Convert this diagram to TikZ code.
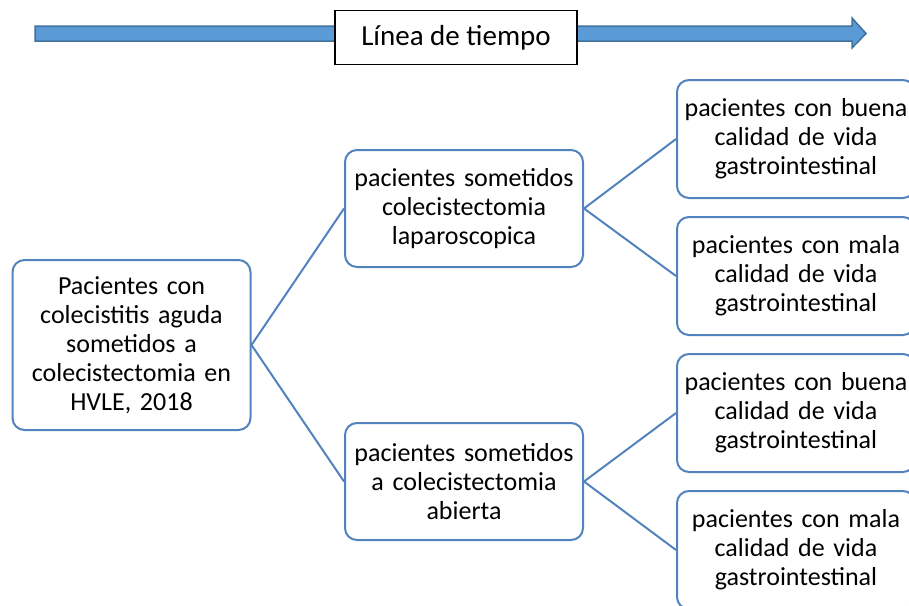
\documentclass[tikz,border=0pt]{standalone}
\usepackage{fontspec}
\setmainfont{Carlito}
\usepackage{tikz}
\usetikzlibrary{calc}
\definecolor{arrowfill}{RGB}{91,155,213}
\definecolor{arrowline}{RGB}{65,113,156}
\definecolor{boxline}{RGB}{83,131,190}

\begin{document}
\begin{tikzpicture}[x=1pt, y=-1pt,
	box/.style={draw=boxline, line width=2pt, rounded corners=12pt, fill=white,
		align=center, inner sep=0pt, text width=236pt, minimum width=238pt,
		font=\fontsize{26}{29}\selectfont},
	link/.style={draw=boxline, line width=2pt}]
	\clip (0,0) rectangle (909,605);
	\useasboundingbox (0,0) rectangle (909,605);
	% time line
	\coordinate (L) at (35,26);
	\coordinate (R) at (852,41);
	\filldraw [fill=arrowfill, draw=arrowline, line width=1.5pt]
		(L) -- (852,26) -- (852,18) -- (866,33.5) -- (852,48) -- (R) -- (35,41) -- cycle;
	\node [draw, line width=1.5pt, fill=white, minimum width=242pt, minimum height=54pt,
		font=\fontsize{29}{32}\selectfont] (title) at (456,37.5) {Línea de tiempo};
	% boxes
	\node [box, minimum height=170pt] (root) at (131.5,345)
		{Pacientes con\\colecistitis aguda\\sometidos a\\colecistectomia en\\HVLE, 2018};
	\node [box, minimum height=117pt] (lap) at (464,208.5)
		{pacientes sometidos\\colecistectomia\\laparoscopica};
	\node [box, minimum height=117pt] (abi) at (464,481.5)
		{pacientes sometidos\\a colecistectomia\\abierta};
	\node [box, minimum height=118pt] (lapbuena) at (796,139)
		{pacientes con buena\\calidad de vida\\gastrointestinal};
	\node [box, minimum height=118pt] (lapmala) at (796,276)
		{pacientes con mala\\calidad de vida\\gastrointestinal};
	\node [box, minimum height=118pt] (abibuena) at (796,413)
		{pacientes con buena\\calidad de vida\\gastrointestinal};
	\node [box, minimum height=118pt] (abimala) at (796,550)
		{pacientes con mala\\calidad de vida\\gastrointestinal};
	% links
	\draw [link] (lap.west) -- (root.east) -- (abi.west);
	\draw [link] (lapbuena.west) -- (lap.east) -- (lapmala.west);
	\draw [link] (abibuena.west) -- (abi.east) -- (abimala.west);
\end{tikzpicture}
\end{document}
